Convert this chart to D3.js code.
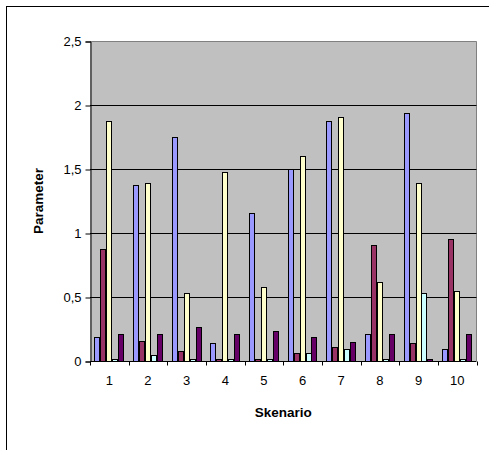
<!DOCTYPE html>
<html>
<head>
<meta charset="utf-8">
<script src="https://cdn.jsdelivr.net/npm/d3@7"></script>
<style>
  html, body { margin: 0; padding: 0; background: #fff; }
  svg { display: block; }
  text { font-family: Arial, "Liberation Sans", sans-serif; fill: #000; }
</style>
</head>
<body>
<svg id="chart" width="489" height="450"></svg>
<script>
// ---- Data ----
const categories = ["1", "2", "3", "4", "5", "6", "7", "8", "9", "10"];
const seriesNames = ["S1", "S2", "S3", "S4", "S5"];
const seriesColors = ["#9999FF", "#993366", "#FFFFCC", "#CCFFFF", "#660066"];
const s1 = [0.19, 1.375, 1.75, 0.14, 1.155, 1.50, 1.875, 0.21, 1.935, 0.095];
const s2 = [0.875, 0.155, 0.08, 0.015, 0.015, 0.065, 0.11, 0.905, 0.14, 0.95];
const s3 = [1.875, 1.39, 0.53, 1.48, 0.575, 1.605, 1.905, 0.62, 1.39, 0.545];
const s4 = [0.015, 0.05, 0.015, 0.015, 0.015, 0.065, 0.09, 0.015, 0.535, 0.015];
const s5 = [0.21, 0.21, 0.265, 0.21, 0.235, 0.19, 0.145, 0.21, 0.015, 0.21];
const seriesValues = [s1, s2, s3, s4, s5];
const yTicks = [0, 0.5, 1, 1.5, 2, 2.5];
const yTickLabels = ["0", "0,5", "1", "1,5", "2", "2,5"];
const xTitle = "Skenario";
const yTitle = "Parameter";

// ---- Layout ----
const svg = d3.select("#chart");
const plot = { left: 90, right: 476.5, top: 41, bottom: 361 };

// outer chart frame (extends past the window)
svg.append("rect")
  .attr("x", 6.5).attr("y", 6.5)
  .attr("width", 600).attr("height", 600)
  .attr("fill", "#fff").attr("stroke", "#000").attr("stroke-width", 1);

const x = d3.scaleBand().domain(categories).range([plot.left, plot.right]).paddingInner(0).paddingOuter(0);
const y = d3.scaleLinear().domain([0, 2.5]).range([plot.bottom, plot.top]);

const bw = x.bandwidth();
const barW = bw / 6.5;
const xs = d3.scaleBand().domain(seriesNames).range([0.75 * barW, bw - 0.75 * barW]).padding(0);

// plot area background
svg.append("rect")
  .attr("x", plot.left).attr("y", plot.top)
  .attr("width", plot.right - plot.left).attr("height", plot.bottom - plot.top)
  .attr("fill", "#C0C0C0");

// gray border top/right
svg.append("path")
  .attr("d", `M${plot.left},${plot.top + 0.5}H${plot.right}V${plot.bottom}`)
  .attr("fill", "none").attr("stroke", "#808080").attr("stroke-width", 1);

// gridlines
svg.append("g").selectAll("line")
  .data(yTicks.filter(t => t > 0 && t < 2.5))
  .join("line")
  .attr("x1", plot.left).attr("x2", plot.right)
  .attr("y1", d => Math.round(y(d)) + 0.5).attr("y2", d => Math.round(y(d)) + 0.5)
  .attr("stroke", "#000").attr("stroke-width", 1);

// bars
const flat = [];
categories.forEach((c, i) => {
  seriesNames.forEach((s, j) => {
    flat.push({ cat: c, ser: s, val: seriesValues[j][i], color: seriesColors[j] });
  });
});
svg.append("g").selectAll("rect")
  .data(flat)
  .join("rect")
  .attr("x", d => Math.round(x(d.cat) + xs(d.ser)) + 0.5)
  .attr("y", d => Math.round(y(d.val)) + 0.5)
  .attr("width", Math.round(xs.bandwidth()) - 1)
  .attr("height", d => Math.max(0, Math.round(y(0)) - Math.round(y(d.val))))
  .attr("fill", d => d.color)
  .attr("stroke", "#000").attr("stroke-width", 1);

// y axis
const yAxis = d3.axisLeft(y).tickValues(yTicks).tickSize(5).tickPadding(4)
  .tickFormat((d, i) => yTickLabels[i]);
const gy = svg.append("g").attr("transform", `translate(${plot.left + 0.5},0.5)`).call(yAxis);
gy.selectAll("text").style("font-size", "13px").style("font-family", "Arial, 'Liberation Sans', sans-serif").attr("fill", "#000");
gy.selectAll("line").attr("stroke", "#000");
gy.select(".domain").attr("stroke", "#000");

// x axis
const xAxis = d3.axisBottom(x).tickSize(0).tickPadding(14);
const gx = svg.append("g").attr("transform", `translate(0,${plot.bottom + 0.5})`).call(xAxis);
gx.select(".domain").attr("d", `M${plot.left},0H${plot.right}`).attr("stroke", "#000");
gx.selectAll("text").style("font-size", "13px").style("font-family", "Arial, 'Liberation Sans', sans-serif").attr("fill", "#000");
// boundary ticks
const bounds = categories.map(c => x(c)).concat([plot.right]);
gx.append("g").selectAll("line").data(bounds).join("line")
  .attr("x1", d => Math.round(d) + 0.5).attr("x2", d => Math.round(d) + 0.5)
  .attr("y1", 0).attr("y2", 4).attr("stroke", "#000");

// titles
svg.append("text")
  .attr("x", (plot.left + plot.right) / 2).attr("y", 417)
  .attr("text-anchor", "middle")
  .style("font-size", "13.5px").style("font-weight", "bold")
  .text(xTitle);
svg.append("text")
  .attr("transform", `translate(43,${(plot.top + plot.bottom) / 2}) rotate(-90)`)
  .attr("text-anchor", "middle")
  .style("font-size", "13.5px").style("font-weight", "bold")
  .text(yTitle);
</script>
</body>
</html>
